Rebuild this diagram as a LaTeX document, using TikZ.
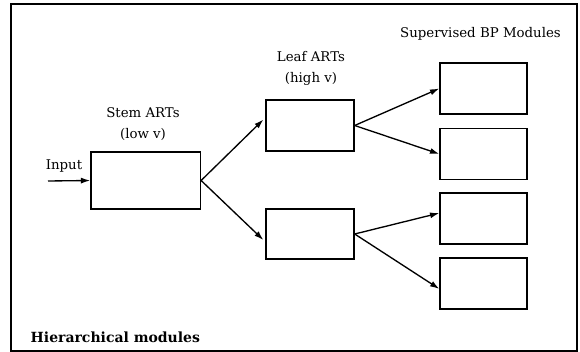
\documentclass[tikz,border=0pt]{standalone}
\usepackage{fontspec}
\setmainfont{DejaVu Serif}
\usetikzlibrary{arrows.meta}

\begin{document}
\begin{tikzpicture}[x=0.75pt, y=-0.75pt,
    module/.style={draw, line width=1pt, inner sep=0pt},
    lbl/.style={align=center, font=\fontsize{10}{15.75}\selectfont},
    arr/.style={line width=1pt, -{Latex[length=7pt,width=4.5pt]}}]
    \def\px{0.75pt}

    % Draw the outer frame
    \useasboundingbox (0,0) rectangle (580,352);
    \draw[line width=1pt] (11,4) rectangle (577,351);

    % Stem module
    \node[module, minimum width=109.5*\px, minimum height=57*\px] (stem) at (145.7,180.5) {};
    \node[lbl] (stemlbl) at (143,124.5) {Stem ARTs\\(low v)};

    % Leaf modules
    \node[module, minimum width=88*\px, minimum height=51*\px] (leafA) at (310,125.5) {};
    \node[module, minimum width=88*\px, minimum height=50*\px] (leafB) at (310,234) {};
    \node[lbl] (leaflbl) at (311,68.5) {Leaf ARTs\\(high v)};

    % Supervised modules
    \foreach \i/\y in {1/88.5, 2/154, 3/218.5, 4/283.5}
        \node[module, minimum width=87*\px, minimum height=51*\px] (bp\i) at (483.5,\y) {};
    \node[lbl] (bplbl) at (480.5,34) {Supervised BP Modules};

    % Input
    \coordinate (in) at (48,181);
    \node[lbl] (inlbl) at (64,166) {Input};
    \draw[arr] (in) -- (stem.west);

    % Connections
    \draw[arr, shorten >=2pt] (stem.east) -- (leafA.170);
    \draw[arr, shorten >=2pt] (stem.east) -- (leafB.190);
    \draw[arr] (leafA.east) -- (bp1.west);
    \draw[arr] (leafA.east) -- (bp2.west);
    \draw[arr] (leafB.east) -- (bp3.173);
    \draw[arr] (leafB.east) -- (bp4.187);

    \node[font=\fontsize{10.5}{12}\selectfont\bfseries, anchor=west] (title) at (26,337) {Hierarchical modules};
\end{tikzpicture}
\end{document}
